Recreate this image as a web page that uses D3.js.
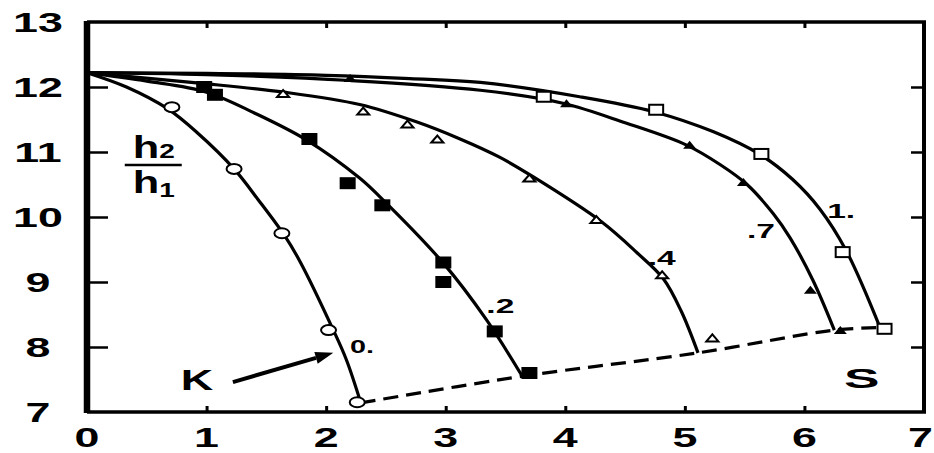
<!DOCTYPE html>
<html>
<head>
<meta charset="utf-8">
<script src="https://cdn.jsdelivr.net/npm/d3@7"></script>
<style>
  body { margin: 0; background: #fff; }
  svg { display: block; }
  text { font-family: "Liberation Sans", Arial, sans-serif; font-weight: bold; fill: #000; }
</style>
</head>
<body>
<svg id="chart" width="934" height="453"></svg>
<script>
// curve points, x vs h2/h1
var curve0 = [[0, 12.22], [0.33, 12.0], [0.67, 11.67], [0.92, 11.3], [1.23, 10.74], [1.43, 10.27], [1.65, 9.72], [1.78, 9.32], [2.06, 8.26], [2.17, 7.8], [2.29, 7.14]];
var curve2 = [[0, 12.22], [0.5, 12.09], [1.0, 11.92], [1.4, 11.6], [1.84, 11.18], [2.28, 10.6], [2.45, 10.31], [2.98, 9.29], [3.34, 8.42], [3.64, 7.55]];
var curve4 = [[0, 12.22], [0.94, 12.06], [1.65, 11.92], [2.28, 11.73], [2.76, 11.46], [3.12, 11.2], [3.45, 10.92], [3.73, 10.62], [4.3, 9.93], [4.6, 9.45], [4.82, 9.05], [4.97, 8.55], [5.11, 7.91]];
var curve7 = [[0, 12.22], [1, 12.19], [2.2, 12.1], [3.29, 11.95], [3.98, 11.75], [4.5, 11.45], [5.01, 11.11], [5.3, 10.8], [5.52, 10.5], [5.74, 10.05], [5.88, 9.68], [6.07, 9.03], [6.25, 8.26]];
var curve10 = [[0, 12.22], [1, 12.21], [2, 12.18], [2.7, 12.13], [3.29, 12.07], [4.12, 11.85], [4.74, 11.62], [5.24, 11.31], [5.63, 10.96], [5.9, 10.58], [6.13, 10.12], [6.35, 9.48], [6.63, 8.31]];
var curves = [curve0, curve2, curve4, curve7, curve10];

// dashed line joining the curve ends
var boundary = [[2.29, 7.14], [3.64, 7.55], [5.11, 7.91], [6.25, 8.26], [6.63, 8.3]];

// measured points
var circles = [[0.71, 11.69], [1.23, 10.74], [1.63, 9.75], [2.02, 8.26], [2.26, 7.15]];
var filledSquares = [[0.98, 12.0], [1.07, 11.88], [1.86, 11.2], [2.18, 10.52], [2.47, 10.18], [2.98, 9.3], [2.98, 9.0], [3.41, 8.24], [3.7, 7.6]];
var openTriangles = [[1.64, 11.9], [2.31, 11.63], [2.68, 11.43], [2.93, 11.2], [3.7, 10.6], [4.26, 9.96], [4.81, 9.11], [5.23, 8.14]];
var filledTriangles = [[2.2, 12.14], [4.01, 11.75], [5.04, 11.11], [5.49, 10.54], [6.05, 8.88], [6.3, 8.26]];
var openSquares = [[3.82, 11.85], [4.76, 11.65], [5.64, 10.97], [6.32, 9.46], [6.67, 8.28]];

// curve labels and where they sit (data coords, text start / baseline)
var curveLabels = ['0.', '.2', '.4', '.7', '1.'];
var curveLabelPos = [[2.2, 7.91], [3.34, 8.52], [4.69, 9.26], [5.52, 9.68], [6.19, 9.98]];

var xTicks = [0, 1, 2, 3, 4, 5, 6, 7];
var yTicks = [7, 8, 9, 10, 11, 12, 13];

var svg = d3.select('#chart');
var x = d3.scaleLinear().domain([0, 7]).range([87, 924]);
var y = d3.scaleLinear().domain([7, 13]).range([412, 22]);
var stretch = 1.6; // the scanned lettering is very wide

function wideText(sel, px, py, str, size, anchor, sx) {
  return sel.append('text')
    .attr('transform', 'translate(' + px + ',' + py + ') scale(' + (sx || stretch) + ',1)')
    .attr('text-anchor', anchor || 'start')
    .style('font-size', size + 'px')
    .text(str);
}

// inner tick marks
var inner = [8, 9, 10, 11, 12];
svg.append('g').attr('transform', 'translate(' + x(0) + ',0)')
  .call(d3.axisLeft(y).tickValues(inner).tickSize(-21).tickFormat(''))
  .call(function(g) { g.select('.domain').remove(); })
  .selectAll('line').attr('stroke-width', 2.5);
svg.append('g').attr('transform', 'translate(' + x(7) + ',0)')
  .call(d3.axisRight(y).tickValues(inner).tickSize(-13).tickFormat(''))
  .call(function(g) { g.select('.domain').remove(); })
  .selectAll('line').attr('stroke-width', 2.5);
svg.append('g').attr('transform', 'translate(0,' + y(13) + ')')
  .call(d3.axisTop(x).tickValues([1, 2, 3, 4, 5, 6]).tickSize(-6).tickFormat(''))
  .call(function(g) { g.select('.domain').remove(); })
  .selectAll('line').attr('stroke-width', 3);
svg.append('g').attr('transform', 'translate(0,' + y(7) + ')')
  .call(d3.axisBottom(x).tickValues([1, 2, 3, 4, 5, 6]).tickSize(-6).tickFormat(''))
  .call(function(g) { g.select('.domain').remove(); })
  .selectAll('line').attr('stroke-width', 3);

// frame
svg.append('line').attr('x1', x(0)).attr('x2', x(7) + 2).attr('y1', y(13)).attr('y2', y(13))
  .attr('stroke', '#000').attr('stroke-width', 3.5);
svg.append('line').attr('x1', x(0)).attr('x2', x(7) + 2).attr('y1', y(7)).attr('y2', y(7))
  .attr('stroke', '#000').attr('stroke-width', 3.5);
svg.append('line').attr('x1', x(7)).attr('x2', x(7)).attr('y1', y(13)).attr('y2', y(7))
  .attr('stroke', '#000').attr('stroke-width', 4);
svg.append('line').attr('x1', x(0)).attr('x2', x(0)).attr('y1', y(13) - 1).attr('y2', y(7) + 1)
  .attr('stroke', '#000').attr('stroke-width', 6.5);

// tick labels
yTicks.forEach(function(v) {
  wideText(svg, x(0) - 49, y(v) + 10, v, 28, 'middle');
});
xTicks.forEach(function(v, i) {
  if (i === xTicks.length - 1) {
    // last one runs into the right edge
    wideText(svg, x(v) + 9, y(7) + 35, v, 28, 'end');
  } else {
    wideText(svg, x(v), y(7) + 35, v, 28, 'middle');
  }
});

// curves
var line = d3.line()
  .x(function(d) { return x(d[0]); })
  .y(function(d) { return y(d[1]); })
  .curve(d3.curveCatmullRom.alpha(0.5));

svg.append('g').selectAll('path').data(curves).enter().append('path')
  .attr('d', line)
  .attr('fill', 'none')
  .attr('stroke', '#000')
  .attr('stroke-width', 3.2);

svg.append('path').datum(boundary)
  .attr('d', line)
  .attr('fill', 'none')
  .attr('stroke', '#000')
  .attr('stroke-width', 3.2)
  .attr('stroke-dasharray', '15,8');

// markers
var marks = svg.append('g');
marks.selectAll('ellipse').data(circles).enter().append('ellipse')
  .attr('cx', function(d) { return x(d[0]); })
  .attr('cy', function(d) { return y(d[1]); })
  .attr('rx', 7.5).attr('ry', 5)
  .attr('fill', '#fff').attr('stroke', '#000').attr('stroke-width', 2);

marks.selectAll('rect.fs').data(filledSquares).enter().append('rect')
  .attr('class', 'fs')
  .attr('x', function(d) { return x(d[0]) - 8; })
  .attr('y', function(d) { return y(d[1]) - 6; })
  .attr('width', 16).attr('height', 12)
  .attr('fill', '#000');

marks.selectAll('rect.os').data(openSquares).enter().append('rect')
  .attr('class', 'os')
  .attr('x', function(d) { return x(d[0]) - 7; })
  .attr('y', function(d) { return y(d[1]) - 5; })
  .attr('width', 14).attr('height', 10)
  .attr('fill', '#fff').attr('stroke', '#000').attr('stroke-width', 2);

function tri(d, w, h) {
  var cx = x(d[0]), cy = y(d[1]);
  return 'M' + (cx - w / 2) + ',' + (cy + h / 2) + 'L' + cx + ',' + (cy - h / 2) + 'L' + (cx + w / 2) + ',' + (cy + h / 2) + 'Z';
}
marks.selectAll('path.ot').data(openTriangles).enter().append('path')
  .attr('class', 'ot')
  .attr('d', function(d) { return tri(d, 12, 7); })
  .attr('fill', '#fff').attr('stroke', '#000').attr('stroke-width', 2);
marks.selectAll('path.ft').data(filledTriangles).enter().append('path')
  .attr('class', 'ft')
  .attr('d', function(d) { return tri(d, 13, 8); })
  .attr('fill', '#000');

// curve labels
curveLabels.forEach(function(t, i) {
  var p = curveLabelPos[i];
  wideText(svg, x(p[0]), y(p[1]), t, i === 0 ? 18 : 21);
});

// h2 / h1
var fx = x(0.55), fy = y(10.8);
var numer = svg.append('text')
  .attr('transform', 'translate(' + (fx - 20) + ',' + (fy - 7) + ') scale(1.4,1)')
  .style('font-size', '31px');
numer.append('tspan').text('h');
numer.append('tspan').style('font-size', '20px').text('2');
svg.append('line').attr('x1', fx - 28).attr('x2', fx + 29).attr('y1', fy).attr('y2', fy)
  .attr('stroke', '#000').attr('stroke-width', 2.5);
var denom = svg.append('text')
  .attr('transform', 'translate(' + (fx - 20) + ',' + (fy + 28) + ') scale(1.4,1)')
  .style('font-size', '31px');
denom.append('tspan').text('h');
denom.append('tspan').attr('dy', 4).style('font-size', '20px').text('1');

// K arrow
var arrowFrom = [1.22, 7.46], arrowTo = [2.06, 7.91];
var ax0 = x(arrowFrom[0]), ay0 = y(arrowFrom[1]), ax1 = x(arrowTo[0]), ay1 = y(arrowTo[1]);
var ang = Math.atan2(ay1 - ay0, ax1 - ax0);
var headLen = 18, headW = 6;
var bx = ax1 - headLen * Math.cos(ang), by = ay1 - headLen * Math.sin(ang);
svg.append('line').attr('x1', ax0).attr('y1', ay0).attr('x2', bx).attr('y2', by)
  .attr('stroke', '#000').attr('stroke-width', 4);
svg.append('path')
  .attr('d', 'M' + ax1 + ',' + ay1 +
    'L' + (bx + headW * Math.sin(ang)) + ',' + (by - headW * Math.cos(ang)) +
    'L' + (bx - headW * Math.sin(ang)) + ',' + (by + headW * Math.cos(ang)) + 'Z')
  .attr('fill', '#000');

wideText(svg, x(0.92), y(7.34), 'K', 30, 'middle', 1.5);
wideText(svg, x(6.48), y(7.37), 'S', 28, 'middle', 1.9);
</script>
</body>
</html>
